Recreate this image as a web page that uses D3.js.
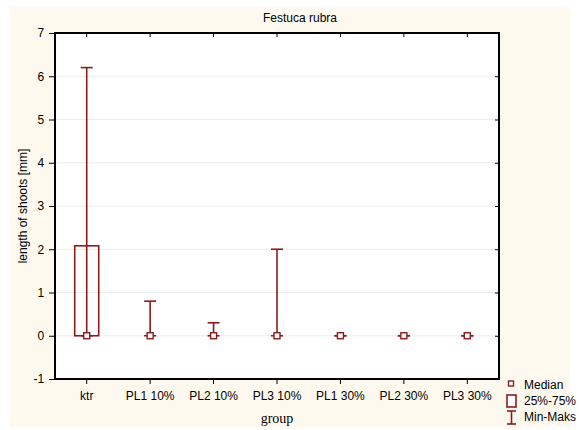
<!DOCTYPE html>
<html>
<head>
<meta charset="utf-8">
<script src="https://cdn.jsdelivr.net/npm/d3@7"></script>
<style>
  body { margin: 0; background: #fff; }
  text { font-family: Arial, "Liberation Sans", sans-serif; }
</style>
</head>
<body>
<div id="chart"></div>
<script>
const groups = ["ktr", "PL1 10%", "PL2 10%", "PL3 10%", "PL1 30%", "PL2 30%", "PL3 30%"];
const medians = [0, 0, 0, 0, 0, 0, 0];
const q1 = [0, 0, 0, 0, 0, 0, 0];
const q3 = [2.08, 0, 0, 0, 0, 0, 0];
const mins = [0, 0, 0, 0, 0, 0, 0];
const maxs = [6.2, 0.8, 0.3, 2.0, 0, 0, 0];
const yTicks = [-1, 0, 1, 2, 3, 4, 5, 6, 7];
const legendItems = ["Median", "25%-75%", "Min-Maks"];

const W = 579, H = 430;
const margin = { top: 33, right: 80, bottom: 51, left: 55 };
const width = W - margin.left - margin.right,
  height = H - margin.top - margin.bottom;
const red = "#8b1c1c";
const fs = 12;

const svg = d3.select("#chart")
  .append("svg")
  .attr("width", W)
  .attr("height", H);

svg.append("rect")
  .attr("x", 10).attr("y", 7)
  .attr("width", 560).attr("height", 420)
  .attr("fill", "#fdf9ee");

const g = svg.append("g")
  .attr("transform", "translate(" + margin.left + "," + margin.top + ")");

g.append("rect")
  .attr("width", width).attr("height", height)
  .attr("fill", "#fff");

const x = d3.scaleBand().domain(groups).range([0, width]);
const y = d3.scaleLinear().domain([-1, 7]).range([height, 0]);

// grid
g.selectAll(".grid")
  .data(yTicks.filter(d => d > -1 && d < 7))
  .enter().append("line")
  .attr("x1", 0).attr("x2", width)
  .attr("y1", d => y(d)).attr("y2", d => y(d))
  .attr("stroke", "#ececec").attr("stroke-width", 1);

// axes
const yAxis = g.append("g")
  .call(d3.axisLeft(y).tickValues(yTicks).tickSize(6).tickSizeOuter(0).tickFormat(d => String(d)));
const yAxisR = g.append("g")
  .attr("transform", "translate(" + width + ",0)")
  .call(d3.axisLeft(y).tickValues(yTicks).tickSize(4).tickSizeOuter(0).tickFormat(""));
const xAxis = g.append("g")
  .attr("transform", "translate(0," + height + ")")
  .call(d3.axisBottom(x).tickSize(5).tickSizeOuter(0));
const xAxisT = g.append("g")
  .call(d3.axisBottom(x).tickSize(4).tickSizeOuter(0).tickFormat(""));

[yAxis, yAxisR, xAxis, xAxisT].forEach(a => {
  a.select(".domain").remove();
  a.selectAll("line").attr("stroke", "#000");
  a.selectAll("text").attr("font-size", fs).attr("fill", "#000")
    .style("font-family", "Arial, 'Liberation Sans', sans-serif");
});
xAxis.selectAll("text").attr("dy", "1.05em");
yAxis.selectAll("text").attr("dx", "-0.15em");

g.append("rect")
  .attr("width", width).attr("height", height)
  .attr("fill", "none").attr("stroke", "#000").attr("stroke-width", 2);

// whiskers + boxes
const idx = d3.range(groups.length);
const cx = i => x(groups[i]) + x.bandwidth() / 2;
const boxW = 24, capW = 12, medS = 6;

g.selectAll(".whisker")
  .data(idx).enter().append("line")
  .attr("x1", cx).attr("x2", cx)
  .attr("y1", i => y(mins[i])).attr("y2", i => y(maxs[i]))
  .attr("stroke", red).attr("stroke-width", 1.6);

g.selectAll(".capTop")
  .data(idx).enter().append("line")
  .attr("x1", i => cx(i) - capW / 2).attr("x2", i => cx(i) + capW / 2)
  .attr("y1", i => y(maxs[i])).attr("y2", i => y(maxs[i]))
  .attr("stroke", red).attr("stroke-width", 1.6);

g.selectAll(".capBot")
  .data(idx).enter().append("line")
  .attr("x1", i => cx(i) - capW / 2).attr("x2", i => cx(i) + capW / 2)
  .attr("y1", i => y(mins[i])).attr("y2", i => y(mins[i]))
  .attr("stroke", red).attr("stroke-width", 1.6);

g.selectAll(".box")
  .data(idx.filter(i => q3[i] > q1[i])).enter().append("rect")
  .attr("x", i => cx(i) - boxW / 2)
  .attr("y", i => y(q3[i]))
  .attr("width", boxW)
  .attr("height", i => y(q1[i]) - y(q3[i]))
  .attr("fill", "none").attr("stroke", red).attr("stroke-width", 1.6);

g.selectAll(".median")
  .data(idx).enter().append("rect")
  .attr("x", i => cx(i) - medS / 2)
  .attr("y", i => y(medians[i]) - medS / 2)
  .attr("width", medS).attr("height", medS)
  .attr("fill", "#fff").attr("stroke", red).attr("stroke-width", 1.4);

// title and labels
svg.append("text")
  .attr("x", 300).attr("y", 22)
  .attr("text-anchor", "middle")
  .attr("font-size", fs)
  .text("Festuca rubra");

svg.append("text")
  .attr("transform", "translate(27," + (margin.top + y(3)) + ") rotate(-90)")
  .attr("text-anchor", "middle")
  .attr("font-size", fs)
  .text("length of shoots [mm]");

svg.append("text")
  .attr("x", margin.left + width / 2).attr("y", 423)
  .attr("text-anchor", "middle")
  .attr("font-size", 14)
  .style("font-family", "'Liberation Serif', 'Times New Roman', serif")
  .text("group");

// legend
const leg = svg.append("g").attr("transform", "translate(511,0)");
const legY = [389, 405, 421];
leg.append("rect")
  .attr("x", -2.5).attr("y", legY[0] - 8).attr("width", 5).attr("height", 5)
  .attr("fill", "#fff").attr("stroke", red).attr("stroke-width", 1.4);
leg.append("rect")
  .attr("x", -4).attr("y", legY[1] - 10).attr("width", 9).attr("height", 12)
  .attr("fill", "#fff").attr("stroke", red).attr("stroke-width", 1.6);
leg.append("line").attr("x1", 0.5).attr("x2", 0.5).attr("y1", legY[2] - 10).attr("y2", legY[2] + 3)
  .attr("stroke", red).attr("stroke-width", 1.6);
leg.append("line").attr("x1", -4).attr("x2", 5).attr("y1", legY[2] - 10).attr("y2", legY[2] - 10)
  .attr("stroke", red).attr("stroke-width", 1.6);
leg.append("line").attr("x1", -4).attr("x2", 5).attr("y1", legY[2] + 3).attr("y2", legY[2] + 3)
  .attr("stroke", red).attr("stroke-width", 1.6);
leg.selectAll(".lt")
  .data(legendItems).enter().append("text")
  .attr("x", 13).attr("y", (d, i) => legY[i])
  .attr("font-size", fs)
  .text(d => d);
</script>
</body>
</html>
